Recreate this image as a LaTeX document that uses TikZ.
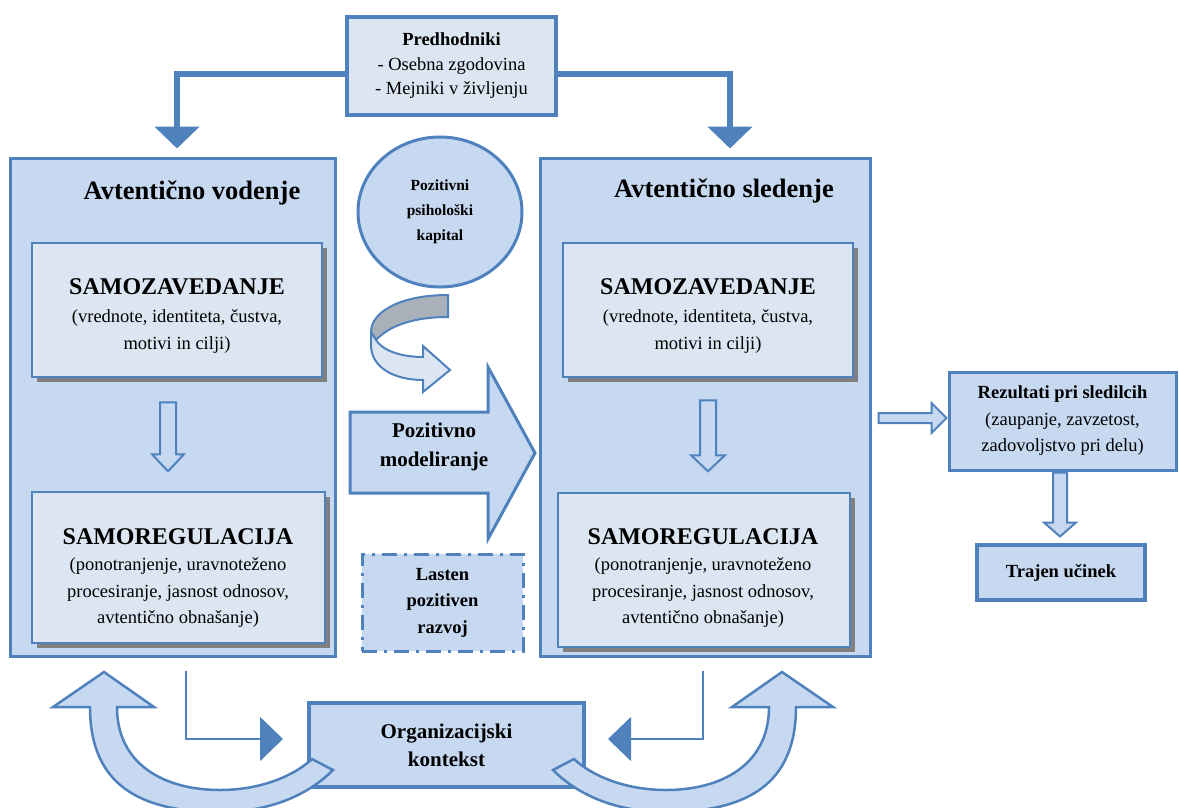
\documentclass[tikz,border=0pt]{standalone}
\usepackage{fontspec}
\setmainfont{Liberation Serif}
\usetikzlibrary{shapes,arrows,arrows.meta,positioning,calc,shadows}
\definecolor{edge}{RGB}{79,129,189}
\definecolor{boxfill}{RGB}{198,217,241}
\definecolor{palefill}{RGB}{220,230,242}
\definecolor{ribbongray}{RGB}{168,176,186}
\tikzset{
bigbox/.style = {draw=edge, fill=boxfill, line width=3pt, rectangle},
shadowbox/.style = {draw=edge, fill=palefill, line width=2.5pt, rectangle, drop shadow={shadow xshift=5pt, shadow yshift=-5pt, fill=gray, opacity=1}},
txt/.style = {align=center, font=\fontsize{18.5}{26.5}\selectfont},
hollow/.style = {draw=edge, fill=boxfill, line width=2pt, line join=miter},
feed/.style = {draw=edge, line width=6pt, -{Triangle[width=44pt,length=22pt]}},
elbow/.style = {draw=edge, line width=2pt, -{Triangle[width=44pt,length=23pt]}}
}
\begin{document}
\begin{tikzpicture}[x=1pt, y=-1pt]
  \useasboundingbox (0,0) rectangle (1179,807);

  % the two large frames
  \node [bigbox, minimum width=325, minimum height=498]   (vodL)   at (172.5,407) {};
  \node [bigbox, minimum width=330, minimum height=498]   (sledR)  at (705,407)   {};
  \node [font=\fontsize{26.5}{30}\selectfont\bfseries]     (vodLt)  at (192,193)   {Avtentično vodenje};
  \node [font=\fontsize{26.5}{30}\selectfont\bfseries]     (sledRt) at (724,191)   {Avtentično sledenje};

  % inner boxes
  \node [shadowbox, minimum width=290, minimum height=134] (zavL) at (177,310)   {};
  \node [shadowbox, minimum width=293, minimum height=151] (regL) at (178.5,567.5) {};
  \node [shadowbox, minimum width=290, minimum height=134] (zavR) at (708,310)   {};
  \node [shadowbox, minimum width=292, minimum height=154] (regR) at (704,570)   {};
  \node [txt] (zavLt) at (177,316) {{\fontsize{24}{26.5}\selectfont\bfseries SAMOZAVEDANJE}\\[2pt] (vrednote, identiteta, čustva,\\ motivi in cilji)};
  \node [txt] (regLt) at (178,578) {{\fontsize{24}{26.5}\selectfont\bfseries SAMOREGULACIJA}\\ (ponotranjenje, uravnoteženo\\ procesiranje, jasnost odnosov,\\ avtentično obnašanje)};
  \node [txt] (zavRt) at (708,316) {{\fontsize{24}{26.5}\selectfont\bfseries SAMOZAVEDANJE}\\[2pt] (vrednote, identiteta, čustva,\\ motivi in cilji)};
  \node [txt] (regRt) at (703,578) {{\fontsize{24}{26.5}\selectfont\bfseries SAMOREGULACIJA}\\ (ponotranjenje, uravnoteženo\\ procesiranje, jasnost odnosov,\\ avtentično obnašanje)};

  \draw [hollow] ($(zavL.south)+(-17,24)$) -- ++(16,0) -- ++(0,52) -- ++(8,0) -- ++(-16,17) -- ++(-16,-17) -- ++(8,0) -- cycle;
  \draw [hollow] ($(zavR.south)+(-8,22)$) -- ++(16,0) -- ++(0,55) -- ++(9,0) -- ++(-17,16) -- ++(-17,-16) -- ++(9,0) -- cycle;

  % middle column
  \node [ellipse, draw=edge, fill=boxfill, line width=3pt, minimum width=164, minimum height=150,
         align=center, font=\fontsize{15.5}{25}\selectfont\bfseries] (kap) at (440,212) {Pozitivni\\psihološki\\kapital};
  \filldraw [fill=ribbongray, draw=edge, line width=2pt] (448,295) .. controls (400,295) and (371,312) .. (371,332)
        -- (376,340) .. controls (390,325) and (415,317) .. (448,317) -- cycle;
  \filldraw [fill=palefill, draw=edge, line width=2pt, line join=miter] (371,332) -- (371,345) .. controls (371,368) and (395,380) .. (423,380)
        -- (423,392) -- (450,370) -- (423,346) -- (423,357) .. controls (400,357) and (382,350) .. (376,340) -- cycle;
  \filldraw [fill=boxfill, draw=edge, line width=3pt, line join=miter] (350,412) -- (488,412) -- (488,367) -- (535,453)
        -- (488,539) -- (488,493) -- (350,493) -- cycle;
  \node [font=\fontsize{21}{29}\selectfont\bfseries, align=center] (model) at (434,447) {Pozitivno\\modeliranje};
  \node [draw=edge, fill=boxfill, line width=3pt, dash pattern=on 15pt off 7pt on 3pt off 7pt,
         minimum width=161, minimum height=97, align=center,
         font=\fontsize{18.5}{26.5}\selectfont\bfseries] (lasten) at (442.5,602.5) {Lasten\\pozitiven\\razvoj};

  % top
  \node [bigbox, fill=palefill, line width=4pt, minimum width=209, minimum height=98, txt,
         font=\fontsize{18.5}{24.5}\selectfont] (pred) at (451.5,66) {\textbf{Predhodniki}\\- Osebna zgodovina\\- Mejniki v življenju};
  \draw [feed] ([yshift=-8]pred.west) -| ([xshift=4.5,yshift=8]vodL.north);
  \draw [feed] ([yshift=-8]pred.east) -| ([xshift=25,yshift=8]sledR.north);

  % right column
  \node [bigbox, txt, minimum width=227, minimum height=98] (rez) at (1062.5,421) {\textbf{Rezultati pri sledilcih}\\(zaupanje, zavzetost,\\zadovoljstvo pri delu)};
  \node [bigbox, line width=4pt, minimum width=168, minimum height=55,
         font=\fontsize{18.5}{22}\selectfont\bfseries] (traj) at (1061,572.5) {Trajen učinek};
  \draw [hollow] ($(sledR.east)+(7,6)$) -- ++(53,0) -- ++(0,-10) -- ++(15,15) -- ++(-15,15) -- ++(0,-10) -- ++(-53,0) -- cycle;
  \draw [hollow] ($(rez.south)+(-9.5,1)$) -- ++(14,0) -- ++(0,50) -- ++(9,0) -- ++(-16,14) -- ++(-16,-14) -- ++(9,0) -- cycle;

  % bottom
  \node [bigbox, line width=4pt, minimum width=275, minimum height=84, align=center,
         font=\fontsize{21}{28}\selectfont\bfseries] (org) at (446.5,745) {Organizacijski\\kontekst};
  \draw [elbow] ([xshift=13.5,yshift=-13]vodL.south) |- ([xshift=-24,yshift=6]org.west);
  \draw [elbow] ([xshift=-2,yshift=-13]sledR.south) |- ([xshift=22,yshift=6]org.east);
  \filldraw [fill=boxfill, draw=edge, line width=2.5pt, line join=miter] (90,707) -- (53,707) -- (104,672) -- (154,707) -- (117,707)
        .. controls (117,765) and (165,790) .. (220,790) .. controls (262,790) and (295,775) .. (312,759)
        -- (333,770) .. controls (305,798) and (265,812) .. (220,812) .. controls (140,812) and (90,785) .. (90,707) -- cycle;
  \filldraw [fill=boxfill, draw=edge, line width=2.5pt, line join=miter] (796,707) -- (833,707) -- (782,672) -- (732,707) -- (769,707)
        .. controls (769,765) and (721,790) .. (666,790) .. controls (624,790) and (591,775) .. (574,759)
        -- (553,770) .. controls (581,798) and (621,812) .. (666,812) .. controls (746,812) and (796,785) .. (796,707) -- cycle;
\end{tikzpicture}
\end{document}
